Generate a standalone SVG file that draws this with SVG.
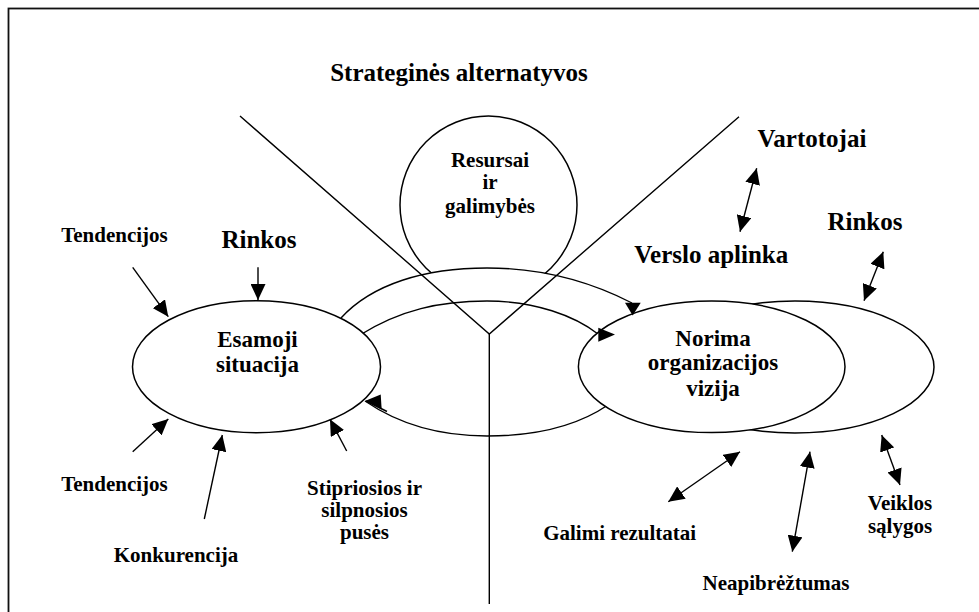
<svg xmlns="http://www.w3.org/2000/svg" width="979" height="612" viewBox="0 0 979 612">
<defs>
<style>
.t{font-family:"Liberation Serif","Times New Roman",serif;font-weight:bold;fill:#000;text-anchor:middle}
.big{font-size:25px}
.mid{font-size:23px}
.sm{font-size:21px}
.shape{fill:#fff;stroke:#000;stroke-width:1.5}
.ln{fill:none;stroke:#000;stroke-width:1.4}
.ar{fill:none;stroke:#000;stroke-width:1.4;marker-end:url(#ah)}
.ar2{fill:none;stroke:#000;stroke-width:1.4;marker-start:url(#ah);marker-end:url(#ah)}
.head{fill:#000;stroke:none}
</style>
<marker id="ah" viewBox="0 0 16 15" refX="16" refY="7.5" markerWidth="16" markerHeight="15" markerUnits="userSpaceOnUse" orient="auto-start-reverse">
<path d="M0,0 L16,7.5 L0,15 Z" fill="#000"/>
</marker>
</defs>
<rect width="979" height="612" fill="#fff"/>
<rect x="8.5" y="8.5" width="1000" height="700" fill="none" stroke="#111" stroke-width="1.8"/>

<text class="t big" x="459" y="81">Strateginės alternatyvos</text>

<g id="resursai">
<ellipse class="shape" cx="488.5" cy="205" rx="88.5" ry="89"/>
<text class="t sm" x="490" y="166.7">Resursai</text>
<text class="t sm" x="490" y="189.3">ir</text>
<text class="t sm" x="490" y="212.7">galimybės</text>
</g>

<g id="connectors">
<path d="M341,318 C372,284 425,268 487,268 C545,268 595,284 632,303 L632,420 L341,420 Z" fill="#fff" stroke="none"/>
<path class="ln" d="M341,318 C372,284 425,268 487,268 C545,268 595,284 632,303"/>
<path class="ln" d="M360,335 C400,310 440,301 487,301 C535,301 575,316 598,334"/>
<path class="ln" d="M365,401 C400,425 440,436 487,436 C540,436 580,424 608,405"/>
</g>

<g id="esamoji">
<ellipse class="shape" cx="256.5" cy="366.7" rx="124" ry="66"/>
<text class="t mid" x="257.5" y="346.7">Esamoji</text>
<text class="t mid" x="257.5" y="371.7">situacija</text>
</g>

<g id="verslo-aplinka">
<ellipse class="shape" cx="795" cy="367" rx="139" ry="66"/>
</g>

<g id="norima">
<ellipse class="shape" cx="711.7" cy="366.8" rx="133.3" ry="65.8"/>
<text class="t mid" x="713" y="346">Norima</text>
<text class="t mid" x="713" y="370">organizacijos</text>
<text class="t mid" x="713" y="395.7">vizija</text>
</g>

<g id="lines">
<path class="ln" d="M240,116 L489.3,334 L739,116.7"/>
<path class="ln" d="M489.3,334 L489.3,604"/>
</g>

<g id="arrows">
<polygon class="head" points="625,302.7 640.7,302.7 632.7,315.5"/>
<polygon class="head" points="598.3,327.7 598.3,341.7 615,334.5"/>
<polygon class="head" points="365.5,400.7 380.7,394.5 381.7,409.5"/>
<path class="ln" d="M366,401 L387,411.5"/>
<path class="ar" d="M132.7,267.3 L168.3,316.7"/>
<path class="ar" d="M258,267.3 L258,300"/>
<path class="ar" d="M132.7,451.7 L168.3,419"/>
<path class="ar" d="M204.3,519 L222.3,435"/>
<path class="ar" d="M346.7,451 L330,419.3"/>
<path class="ar2" d="M756.7,168.3 L740,231.7"/>
<path class="ar2" d="M883.3,251.7 L864,300.7"/>
<path class="ar2" d="M740,451.7 L668.3,501.7"/>
<path class="ar2" d="M810,451.7 L792.3,551.7"/>
<path class="ar2" d="M881.7,435 L900,485"/>
</g>

<g id="labels">
<text class="t sm" x="114.5" y="242.3">Tendencijos</text>
<text class="t big" x="259" y="247.7">Rinkos</text>
<text class="t sm" x="114.5" y="490.7">Tendencijos</text>
<text class="t sm" x="176" y="561.7">Konkurencija</text>
<text class="t sm" x="364.5" y="495">Stipriosios ir</text>
<text class="t sm" x="364.5" y="517.3">silpnosios</text>
<text class="t sm" x="364.5" y="539.3">pusės</text>
<text class="t big" x="812" y="146.7">Vartotojai</text>
<text class="t big" x="865" y="230">Rinkos</text>
<text class="t big" x="711.3" y="263.3">Verslo aplinka</text>
<text class="t sm" x="619.7" y="540">Galimi rezultatai</text>
<text class="t sm" x="776" y="590">Neapibrėžtumas</text>
<text class="t sm" x="900" y="510">Veiklos</text>
<text class="t sm" x="900" y="533.3">sąlygos</text>
</g>
</svg>
